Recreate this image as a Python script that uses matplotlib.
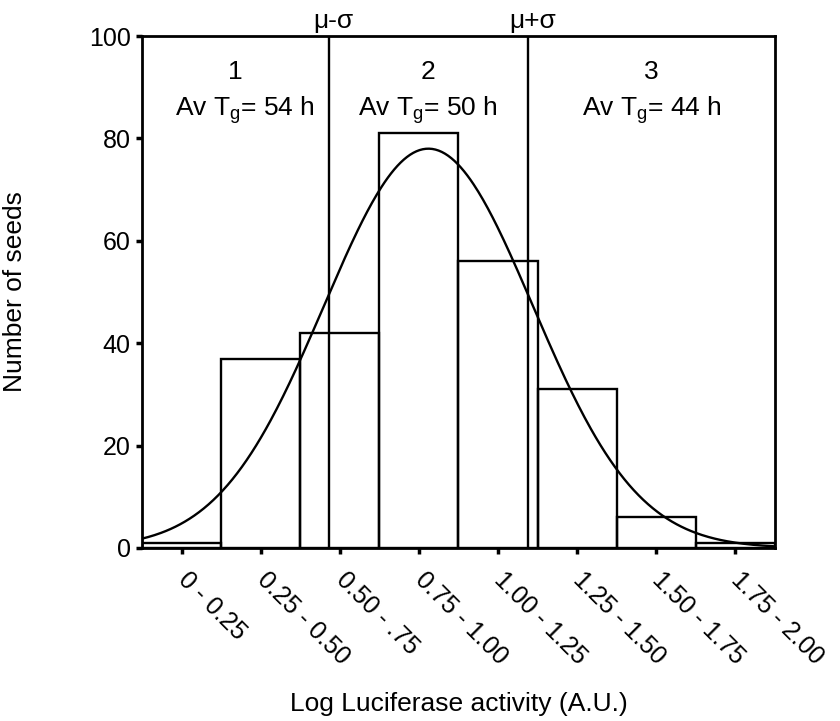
import numpy as np
import matplotlib
matplotlib.use('Agg')
import matplotlib.pyplot as plt

plt.rcParams['font.family'] = ['Liberation Sans', 'DejaVu Sans']
plt.rcParams['mathtext.default'] = 'regular'

# histogram of seeds per log luciferase bin
bin_labels = ['0 - 0.25', '0.25 - 0.50', '0.50 - .75', '0.75 - 1.00',
              '1.00 - 1.25', '1.25 - 1.50', '1.50 - 1.75', '1.75 - 2.00']
bin_left = [0.0, 0.25, 0.50, 0.75, 1.00, 1.25, 1.50, 1.75]
seed_counts = [1, 37, 42, 81, 56, 31, 6, 1]

# fitted normal curve
curve_mean = 0.905
curve_sd = 0.33
curve_peak = 78

# mean +/- sd markers and the three groups
sd_lines = [0.59, 1.22]
sd_names = ['\u03bc-\u03c3', '\u03bc+\u03c3']
group_names = ['1', '2', '3']
group_tg = [54, 50, 44]

bin_width = 0.25
x_min, x_max = 0.0, 2.0

fig = plt.figure(figsize=(8.4, 7.21), dpi=100)
ax = fig.add_axes([0.169, 0.240, 0.7536, 0.710])

centers = np.array(bin_left) + bin_width / 2
ax.bar(centers, seed_counts, width=bin_width, fill=False,
       edgecolor='black', linewidth=1.7, zorder=2)

xs = np.linspace(x_min, x_max, 400)
ys = curve_peak * np.exp(-0.5 * ((xs - curve_mean) / curve_sd) ** 2)
ax.plot(xs, ys, color='black', linewidth=1.7, zorder=3)

for x, name in zip(sd_lines, sd_names):
    ax.axvline(x, color='black', linewidth=1.7, zorder=3)
    ax.text(x + 0.015, 100.6, name, ha='center', va='bottom', fontsize=19)

edges = [x_min] + sd_lines + [x_max]
for i in range(3):
    cx = (edges[i] + edges[i + 1]) / 2
    ax.text(cx, 93, group_names[i], ha='center', va='center', fontsize=19)
    ax.text(cx + (0.03 if i == 0 else 0), 85.5,
            'Av T$_{g}$= %d h' % group_tg[i], ha='center',
            va='center', fontsize=19)

ax.set_xlim(x_min, x_max)
ax.set_ylim(0, 100)
ax.set_yticks(range(0, 101, 20))
ax.set_xticks(centers)
ax.set_xticklabels(bin_labels, rotation=-45, ha='left', va='center',
                   rotation_mode='anchor')
ax.tick_params(axis='both', direction='out', length=4, width=2.5,
               labelsize=18)
ax.tick_params(axis='x', pad=16)
ax.tick_params(axis='y', pad=4)

for s in ax.spines.values():
    s.set_linewidth(2)

ax.set_xlabel('Log Luciferase activity (A.U.)', fontsize=19)
ax.xaxis.set_label_coords(0.5, -0.281)
ax.set_ylabel('Number of seeds', fontsize=19)
ax.yaxis.set_label_coords(-0.182, 0.5)

fig.savefig('out.png', dpi=100)
